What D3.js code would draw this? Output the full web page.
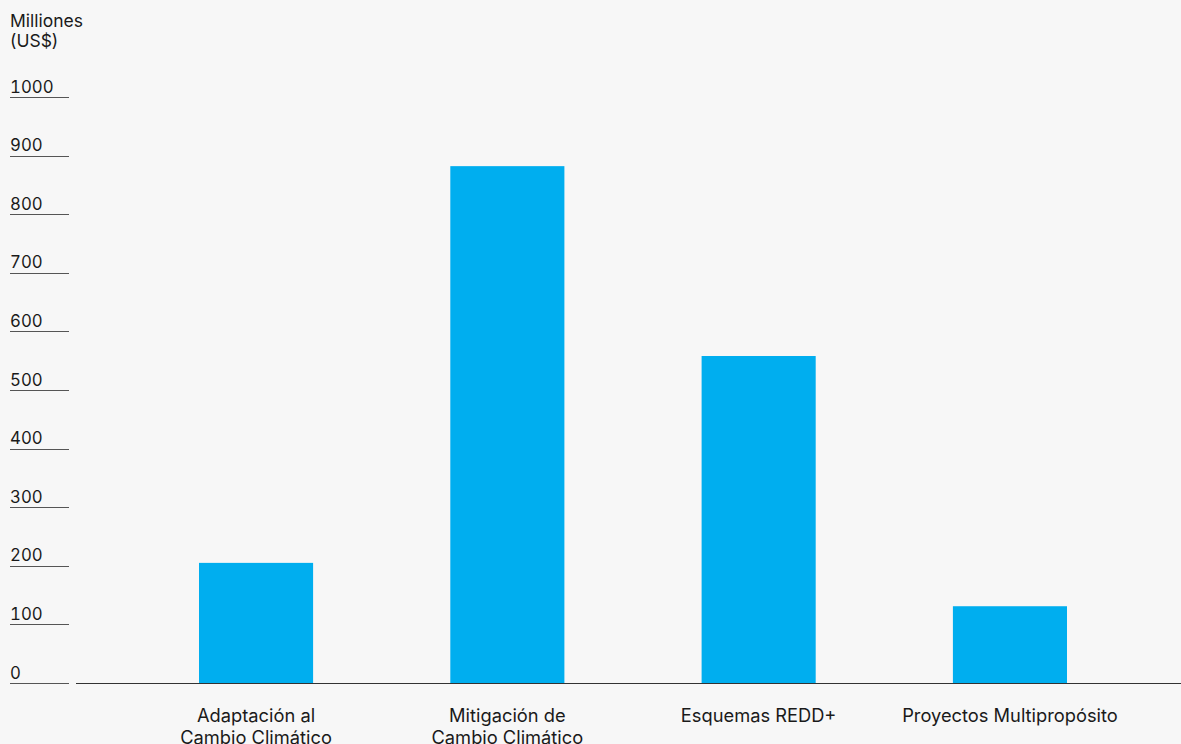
<!DOCTYPE html>
<html><head><meta charset="utf-8">
<script src="https://cdn.jsdelivr.net/npm/d3@7"></script>
<style>
html,body{margin:0;padding:0;background:#f7f7f7;}
svg{display:block;font-family:Inter,"Liberation Sans",Arial,sans-serif;}
</style></head>
<body>
<svg id="chart" width="1181" height="744"></svg>
<script>
const categories = [["Adaptación al","Cambio Climático"],["Mitigación de","Cambio Climático"],["Esquemas REDD+"],["Proyectos Multipropósito"]];
const values = [205, 882, 558, 131];
const tickValues = [0,100,200,300,400,500,600,700,800,900,1000];
const axisTitle = ["Milliones","(US$)"];

const svg = d3.select("#chart");
const W = 1181, H = 744;
svg.append("rect").attr("width",W).attr("height",H).attr("fill","#f7f7f7");

const y = d3.scaleLinear().domain([0,1000]).range([683,97]);
const keys = categories.map((c,i)=>i);
const x = d3.scaleBand().domain(keys).range([130.4,1135.6]).paddingInner(0.546).paddingOuter(0.273);

// y ticks
const yg = svg.append("g");
yg.selectAll("line").data(tickValues).join("line")
  .attr("x1",10).attr("x2",69)
  .attr("y1",d=>Math.round(y(d))+0.5).attr("y2",d=>Math.round(y(d))+0.5)
  .attr("stroke","#555").attr("stroke-width",1);
yg.selectAll("text").data(tickValues).join("text")
  .attr("x",10).attr("y",d=>y(d)-4.5)
  .attr("font-size",16.8).attr("fill","#1a1a1a")
  .style("font-variant-numeric","tabular-nums")
  .text(d=>d);

// axis title
svg.append("text").attr("x",10).attr("y",27).attr("font-size",17.5).attr("fill","#1a1a1a")
  .selectAll("tspan").data(axisTitle).join("tspan")
  .attr("x",10).attr("dy",(d,i)=>i===0?0:19.5).text(d=>d);

// bars
svg.append("g").selectAll("rect").data(values).join("rect")
  .attr("x",(d,i)=>x(i)).attr("width",x.bandwidth())
  .attr("y",d=>y(d)).attr("height",d=>y(0)-y(d))
  .attr("fill","#00aeef");

// baseline
svg.append("line").attr("x1",76).attr("x2",W)
  .attr("y1",Math.round(y(0))+0.5).attr("y2",Math.round(y(0))+0.5)
  .attr("stroke","#333").attr("stroke-width",1.2);

// x labels
const lg = svg.append("g");
categories.forEach((lines,i)=>{
  const t = lg.append("text").attr("text-anchor","middle").attr("font-size",18.3).attr("fill","#1a1a1a")
    .attr("x",x(i)+x.bandwidth()/2).attr("y",721.5);
  lines.forEach((l,j)=>{
    t.append("tspan").attr("x",x(i)+x.bandwidth()/2).attr("dy",j===0?0:22.5).text(l);
  });
});
</script>
</body></html>
